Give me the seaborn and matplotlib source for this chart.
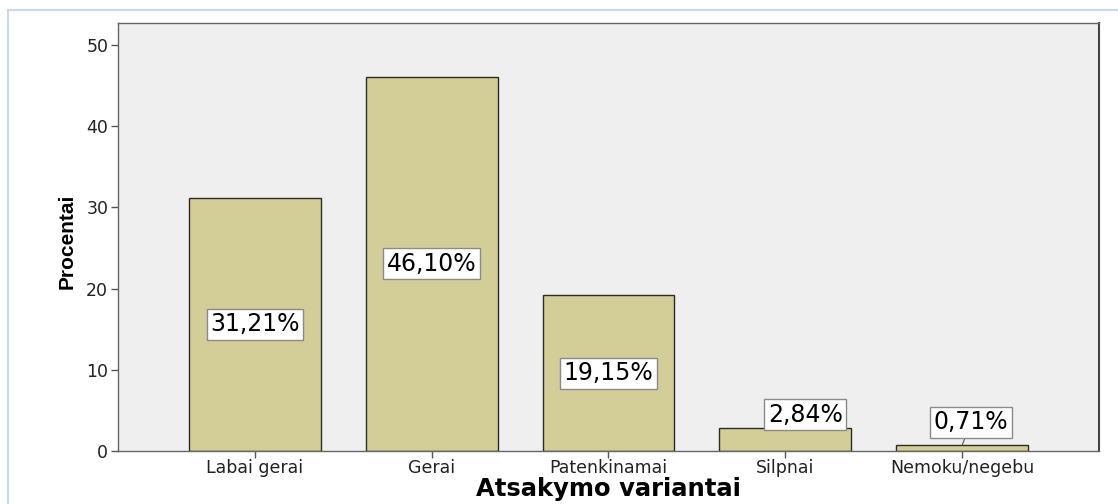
import matplotlib
matplotlib.use("Agg")
import matplotlib.pyplot as plt
from matplotlib.patches import Rectangle
import pandas as pd
import seaborn as sns

# data
categories = ["Labai gerai", "Gerai", "Patenkinamai", "Silpnai", "Nemoku/negebu"]
percents = [31.21, 46.10, 19.15, 2.84, 0.71]
labels = ["31,21%", "46,10%", "19,15%", "2,84%", "0,71%"]
yticks = [0, 10, 20, 30, 40, 50]

df = pd.DataFrame({"Atsakymas": categories, "Procentai": percents})

sns.set_theme(style="white")
plt.rcParams["font.family"] = ["DejaVu Sans"]

fig = plt.figure(figsize=(11.18, 5.04), dpi=100)
ax = fig.add_axes([0.1055, 0.1052, 0.8775, 0.8492])

# light blue outer frame like the original export
fig.patches.append(Rectangle((0.0075, -0.05), 1.0, 1.03, transform=fig.transFigure,
                             fill=False, ec="#c6d9f1", lw=1.5, zorder=0))

sns.barplot(data=df, x="Atsakymas", y="Procentai", order=categories,
            color="#d3ce97", edgecolor="#2b2b2b", linewidth=1.0,
            width=0.746, saturation=1, ax=ax)

ax.set_facecolor("#efefef")
ax.set_xlim(-0.774, 4.774)
ax.set_ylim(0, 52.7)
ax.set_yticks(yticks)
for s in ax.spines.values():
    s.set_visible(True)
    s.set_color("#666666")
    s.set_linewidth(1.0)
ax.spines["right"].set_color("#444444")
ax.spines["right"].set_linewidth(1.5)

ax.tick_params(axis="both", which="both", direction="out", length=5, width=1,
               color="#555555", labelsize=12.5, labelcolor="#222222",
               left=True, bottom=True, pad=2)
ax.tick_params(axis="x", pad=1)

ax.set_xlabel("Atsakymo variantai", fontsize=17.5, fontweight="bold", color="black")
ax.xaxis.label.set_va("center")
ax.xaxis.set_label_coords(0.5, -0.089)
ax.set_ylabel("Procentai", fontsize=15, fontweight="bold", color="black",
              family=["Liberation Sans", "DejaVu Sans"])
ax.yaxis.label.set_va("center")
ax.yaxis.set_label_coords(-0.052, 0.49)

box = dict(boxstyle="square,pad=0.15", fc="white", ec="#8a8a8a", lw=1)
for i, (v, t) in enumerate(zip(percents, labels)):
    if v > 10:
        ax.text(i, v / 2, t, ha="center", va="center", fontsize=17, color="black", bbox=box)

# small bars: labels sit above, the last one with a leader line
ax.annotate(labels[3], xy=(3, percents[3]), xytext=(20, 13), textcoords="offset pixels",
            ha="center", va="center", fontsize=17, color="black", bbox=box)
ax.annotate(labels[4], xy=(4, percents[4]), xytext=(9, 23), textcoords="offset pixels",
            ha="center", va="center", fontsize=17, color="black", bbox=box,
            arrowprops=dict(arrowstyle="-", color="#555555", lw=0.8, shrinkA=0, shrinkB=0))

fig.savefig("out.png", dpi=100)
